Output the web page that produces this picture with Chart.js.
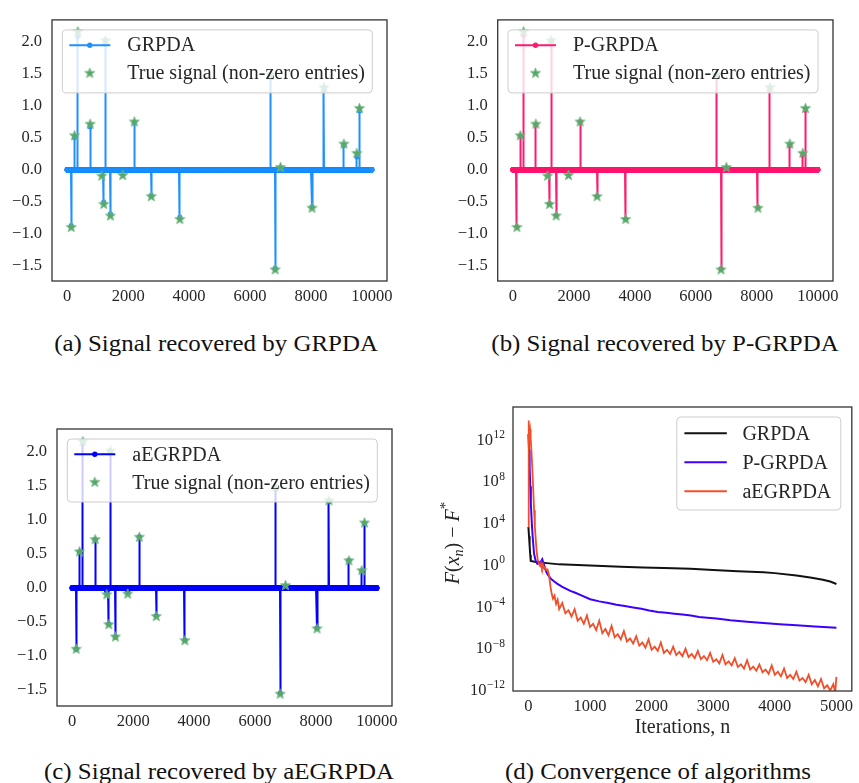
<!DOCTYPE html>
<html>
<head>
<meta charset="utf-8">
<title>Sparse signal recovery</title>
<script src="https://cdn.jsdelivr.net/npm/chart.js@4.4.1/dist/chart.umd.min.js"></script>
<style>
  html, body { margin: 0; padding: 0; background: #fff; }
  body { position: relative; width: 859px; height: 783px; overflow: hidden; }
  canvas { position: absolute; }
  .caption {
    position: absolute; font-family: 'Liberation Serif', 'Times New Roman', serif;
    font-size: 23.5px; line-height: 26px; color: #111; white-space: nowrap;
    transform: translateX(-50%) scaleX(1.06);
  }
</style>
</head>
<body>
<canvas id="panelA" width="430" height="320" style="left:0;top:0"></canvas>
<canvas id="panelB" width="429" height="320" style="left:430px;top:0"></canvas>
<canvas id="panelC" width="430" height="340" style="left:0;top:400px"></canvas>
<canvas id="panelD" width="429" height="345" style="left:430px;top:400px"></canvas>
<div class="caption" style="left:216px;top:330px">(a) Signal recovered by GRPDA</div>
<div class="caption" style="left:665px;top:330px">(b) Signal recovered by P-GRPDA</div>
<div class="caption" style="left:219px;top:758px">(c) Signal recovered by aEGRPDA</div>
<div class="caption" style="left:658px;top:758px">(d) Convergence of algorithms</div>
<script>
// ---- sparse test signal: support, true entries and recovered entries ----
const signalLength = 10000;
const supportIdx = [131, 240, 349, 752, 1134, 1200, 1254, 1418, 1821, 2203, 2759, 3697, 6685, 6827, 7001, 8037, 8430, 9084, 9509, 9596];
const trueValues = [-0.90, 0.53, 2.15, 0.71, -0.10, -0.54, 2.01, -0.72, -0.09, 0.745, -0.42, -0.775, 1.48, -1.56, 0.035, -0.60, 1.28, 0.40, 0.255, 0.955];
const grpdaValues = [-0.87, 0.50, 2.08, 0.67, -0.01, -0.505, 1.96, -0.69, -0.01, 0.73, -0.40, -0.74, 1.43, -1.535, 0.01, -0.58, 1.245, 0.38, 0.20, 0.92];
const pgrpdaValues = [-0.89, 0.52, 2.10, 0.70, -0.02, -0.53, 1.99, -0.71, -0.02, 0.745, -0.41, -0.77, 1.46, -1.545, 0.02, -0.59, 1.26, 0.38, 0.23, 0.93];
const aegrpdaValues = [-0.90, 0.53, 2.13, 0.71, -0.05, -0.53, 2.00, -0.72, -0.04, 0.75, -0.41, -0.77, 1.46, -1.55, 0.02, -0.59, 1.27, 0.40, 0.25, 0.95];

const indexTicks = [0, 2000, 4000, 6000, 8000, 10000];
const indexRange = [-500, 10499];
const amplitudeTicks = [-1.5, -1.0, -0.5, 0.0, 0.5, 1.0, 1.5, 2.0];
const amplitudeRange = [-1.735, 2.335];

// ---- objective gap F(x_n) - F*, stored as log10 values ----
const grpdaIter = [0, 10, 20, 30, 38, 100, 300, 500, 1000, 1500, 1860, 2200, 2632, 3000, 3400, 3817, 4000, 4352, 4600, 4781, 4900, 5000];
const grpdaLogGap = [3.6, 2.7, 1.8, 0.9, 0.32, 0.25, 0.12, 0.0, -0.12, -0.22, -0.3, -0.36, -0.43, -0.55, -0.65, -0.76, -0.84, -1.06, -1.28, -1.47, -1.65, -1.88];

const pgrpdaIter = [0, 10, 20, 30, 40, 55, 70, 92, 120, 146, 180, 210, 225, 240, 270, 305, 360, 420, 466, 550, 681, 762, 850, 1003, 1150, 1297, 1430, 1565, 1700, 1833, 1960, 2101, 2240, 2370, 2500, 2637, 2770, 2905, 3050, 3280, 3550, 3817, 4080, 4352, 4650, 5000];
const pgrpdaLogGap = [12.5, 11.0, 9.3, 7.5, 5.8, 4.0, 2.6, 1.0, 0.3, 0.05, 0.1, 0.35, 0.5, 0.2, -0.4, -0.9, -1.35, -1.65, -1.85, -2.15, -2.55, -2.72, -2.95, -3.35, -3.55, -3.71, -3.87, -4.0, -4.13, -4.25, -4.42, -4.57, -4.65, -4.73, -4.82, -4.9, -5.05, -5.12, -5.2, -5.37, -5.5, -5.63, -5.75, -5.85, -5.97, -6.07];

const aegrpdaIter = [0, 3, 8, 14, 20, 26, 32, 40, 50, 65, 80, 92, 105, 120, 135, 150, 170, 190, 205, 220, 235, 250, 270, 290, 310, 330, 345, 360, 375, 390, 400, 425, 450, 475,
  500, 550, 600, 650, 700, 750, 800, 850, 900, 950, 1000, 1050, 1100, 1150, 1200, 1250, 1300, 1350, 1400, 1450, 1500, 1550, 1600, 1650, 1700, 1750, 1800, 1850, 1900, 1950,
  2000, 2050, 2100, 2150, 2200, 2250, 2300, 2350, 2400, 2450, 2500, 2550, 2600, 2650, 2700, 2750, 2800, 2850, 2900, 2950, 3000, 3050, 3100, 3150, 3200, 3250, 3300, 3350, 3400, 3450,
  3500, 3550, 3600, 3650, 3700, 3750, 3800, 3850, 3900, 3950, 4000, 4050, 4100, 4150, 4200, 4250, 4300, 4350, 4400, 4450, 4500, 4550, 4600, 4650, 4700, 4750, 4800, 4850, 4900, 4950, 4980, 5000];
const aegrpdaLogGap = [3.6, 13.8, 12.9, 13.3, 12.8, 13.0, 12.6, 12.2, 10.8, 9.0, 7.0, 5.2, 3.6, 2.3, 1.2, 0.5, 0.1, -0.15, 0.1, -0.3, 0.0, -0.35, -0.25, -0.55, -0.5, -0.9, -1.5, -2.2, -2.7, -3.1, -3.3, -3.0, -3.8, -3.4,
  -4.3, -3.7, -4.7, -4.4, -5.0, -4.3, -5.4, -5.1, -5.7, -4.9, -6.0, -5.7, -6.3, -5.4, -6.6, -6.2, -6.8, -5.9, -7.0, -6.7, -7.2, -6.4, -7.4, -7.1, -7.6, -6.9, -7.8, -7.5, -8.0, -7.2,
  -8.2, -7.9, -8.3, -7.5, -8.5, -8.2, -8.6, -7.9, -8.7, -8.4, -8.8, -8.1, -8.9, -8.6, -9.0, -8.3, -9.1, -8.8, -9.2, -8.5, -9.35, -9.1, -9.5, -8.7, -9.6, -9.3, -9.7, -9.0, -9.85, -9.6,
  -10.0, -9.2, -10.1, -9.8, -10.2, -9.6, -10.35, -10.1, -10.5, -9.7, -10.6, -10.3, -10.75, -10.0, -10.9, -10.6, -11.0, -10.3, -11.15, -10.9, -11.3, -10.6, -11.5, -11.1, -11.7, -11.0, -11.9, -11.6, -12.1, -11.5, -12.3, -10.8];

const iterTicks = [0, 1000, 2000, 3000, 4000, 5000];
const iterRange = [-250, 5250];
const logTickExps = [-12, -8, -4, 0, 4, 8, 12];
const logRangeExps = [-12.15, 15.1];

// ---- styling ----
const FONT_FAMILY = "'Liberation Serif', 'Times New Roman', serif";
const TICK_COLOR = '#262626';
const TICK_SIZE = 16.5;
const STAR_GREEN = '#55a868';

function makeStar(rOuter) {
  const size = Math.ceil(rOuter * 2 + 2);
  const c = document.createElement('canvas');
  c.width = c.height = size;
  const g = c.getContext('2d');
  g.translate(size / 2, size / 2);
  g.beginPath();
  for (let k = 0; k < 10; k++) {
    const r = k % 2 ? rOuter * 0.42 : rOuter;
    const ang = -Math.PI / 2 + k * Math.PI / 5;
    g.lineTo(r * Math.cos(ang), r * Math.sin(ang));
  }
  g.closePath();
  g.fillStyle = STAR_GREEN;
  g.fill();
  g.lineWidth = 0.8;
  g.strokeStyle = '#72b884';
  g.stroke();
  return c;
}
const starImage = makeStar(5.3);

function denseSignal(vals) {
  const lookup = new Map(supportIdx.map((k, j) => [k, vals[j]]));
  const pts = [];
  for (let i = 0; i < signalLength; i++) pts.push({ x: i, y: lookup.has(i) ? lookup.get(i) : 0 });
  return pts;
}
function logSeries(iters, logs) {
  return iters.map((n, i) => ({ x: n, y: Math.pow(10, logs[i]) }));
}

function roundRect(ctx, x, y, w, h, r) {
  ctx.beginPath();
  ctx.moveTo(x + r, y);
  ctx.arcTo(x + w, y, x + w, y + h, r);
  ctx.arcTo(x + w, y + h, x, y + h, r);
  ctx.arcTo(x, y + h, x, y, r);
  ctx.arcTo(x, y, x + w, y, r);
  ctx.closePath();
}

const axesFrame = {
  id: 'axesFrame',
  afterDatasetsDraw(chart) {
    const { ctx, chartArea: a } = chart;
    ctx.save();
    ctx.strokeStyle = '#333333';
    ctx.lineWidth = 1.3;
    ctx.strokeRect(a.left, a.top, a.right - a.left, a.bottom - a.top);
    ctx.restore();
  }
};

function boxLegend(spec) {
  return {
    id: 'boxLegend',
    afterDatasetsDraw(chart) {
      const { ctx, chartArea: a } = chart;
      const bx = spec.fromRight ? a.right - spec.dx - spec.w : a.left + spec.dx;
      const by = a.top + spec.dy;
      ctx.save();
      roundRect(ctx, bx, by, spec.w, spec.h, 4);
      ctx.fillStyle = 'rgba(255,255,255,0.8)';
      ctx.fill();
      ctx.strokeStyle = '#cccccc';
      ctx.lineWidth = 1;
      ctx.stroke();
      ctx.font = `${spec.fontSize}px ${FONT_FAMILY}`;
      ctx.textBaseline = 'middle';
      ctx.textAlign = 'left';
      spec.entries.forEach((e, i) => {
        const y = by + spec.rows[i];
        const x0 = bx + spec.handle[0], x1 = bx + spec.handle[1], xm = (x0 + x1) / 2;
        if (e.line) {
          ctx.beginPath();
          ctx.moveTo(x0, y);
          ctx.lineTo(x1, y);
          ctx.strokeStyle = e.color;
          ctx.lineWidth = e.width || 2;
          ctx.stroke();
        }
        if (e.dot) {
          ctx.beginPath();
          ctx.arc(xm, y, e.dot, 0, Math.PI * 2);
          ctx.fillStyle = e.color;
          ctx.fill();
        }
        if (e.star) ctx.drawImage(e.star, xm - e.star.width / 2, y - e.star.height / 2);
        ctx.fillStyle = TICK_COLOR;
        ctx.fillText(e.text, bx + spec.textX, y + 1);
      });
      ctx.restore();
    }
  };
}

const charts = [];

function signalChart(canvasId, color, algoName, recovered, area) {
  const cv = document.getElementById(canvasId);
  const W = cv.width, H = cv.height;
  charts.push(new Chart(cv, {
    type: 'scatter',
    data: {
      datasets: [
        {
          label: 'True signal (non-zero entries)',
          data: supportIdx.map((k, j) => ({ x: k, y: trueValues[j] })),
          pointStyle: starImage, pointRadius: 5, showLine: false
        },
        {
          label: algoName,
          data: denseSignal(recovered),
          showLine: true, borderColor: color, borderWidth: 2,
          pointRadius: 2.6, pointBorderWidth: 0, pointBackgroundColor: color, backgroundColor: color
        }
      ]
    },
    options: {
      responsive: false, animation: false, events: [],
      layout: { padding: { left: 0, top: area.top, right: W - area.right, bottom: 0 } },
      plugins: { legend: { display: false }, tooltip: { enabled: false } },
      scales: {
        x: {
          type: 'linear', min: indexRange[0], max: indexRange[1],
          afterBuildTicks: s => { s.ticks = indexTicks.map(v => ({ value: v })); },
          afterFit: s => { s.height = H - area.bottom; },
          grid: { display: false, drawTicks: false }, border: { display: false },
          ticks: { padding: 6, color: TICK_COLOR, font: { family: FONT_FAMILY, size: TICK_SIZE }, maxRotation: 0, autoSkip: false, callback: v => String(v) }
        },
        y: {
          type: 'linear', min: amplitudeRange[0], max: amplitudeRange[1],
          afterBuildTicks: s => { s.ticks = amplitudeTicks.map(v => ({ value: v })); },
          afterFit: s => { s.width = area.left; },
          grid: { display: false, drawTicks: false }, border: { display: false },
          ticks: { padding: 10, color: TICK_COLOR, font: { family: FONT_FAMILY, size: TICK_SIZE }, autoSkip: false,
                   callback: v => (v < 0 ? '\u2212' : '') + Math.abs(v).toFixed(1) }
        }
      }
    },
    plugins: [axesFrame, boxLegend({
      dx: 10.3, dy: 10, w: 310, h: 63, rows: [15.3, 43.3], handle: [7, 48], textX: 65, fontSize: 20,
      entries: [
        { text: algoName, line: true, dot: 2.7, color: color },
        { text: 'True signal (non-zero entries)', star: starImage }
      ]
    })]
  }));
}

signalChart('panelA', '#1e90ff', 'GRPDA', grpdaValues, { left: 52, top: 4, right: 387, bottom: 281 });
signalChart('panelB', '#fe1a6f', 'P-GRPDA', pgrpdaValues, { left: 67.7, top: 4, right: 403, bottom: 281 });
signalChart('panelC', '#0000ff', 'aEGRPDA', aegrpdaValues, { left: 57, top: 29, right: 392, bottom: 306 });

// ---- convergence panel ----
const logTickLabels = {
  id: 'logTickLabels',
  afterDraw(chart) {
    const { ctx, chartArea: a, scales: { y } } = chart;
    ctx.save();
    ctx.fillStyle = TICK_COLOR;
    ctx.textBaseline = 'alphabetic';
    ctx.textAlign = 'left';
    logTickExps.forEach(e => {
      const py = y.getPixelForValue(Math.pow(10, e));
      const base = '10';
      const sup = (e < 0 ? '\u2212' : '') + Math.abs(e);
      ctx.font = `${TICK_SIZE}px ${FONT_FAMILY}`;
      const wb = ctx.measureText(base).width;
      ctx.font = `11.5px ${FONT_FAMILY}`;
      const ws = ctx.measureText(sup).width;
      const x0 = a.left - 8 - wb - ws - 0.5;
      ctx.font = `${TICK_SIZE}px ${FONT_FAMILY}`;
      ctx.fillText(base, x0, py + 5.5);
      ctx.font = `11.5px ${FONT_FAMILY}`;
      ctx.fillText(sup, x0 + wb + 0.5, py - 1);
    });
    ctx.restore();
  }
};

const gapAxisTitle = {
  id: 'gapAxisTitle',
  afterDraw(chart) {
    const { ctx, chartArea: a } = chart;
    const parts = [
      { t: 'F', f: 'italic 20px', dy: 0 },
      { t: '(', f: '20px', dy: 0 },
      { t: 'x', f: 'italic 20px', dy: 0 },
      { t: 'n', f: 'italic 14px', dy: 4 },
      { t: ')', f: '20px', dy: 0 },
      { t: ' \u2212 ', f: '20px', dy: 0 },
      { t: 'F', f: 'italic 20px', dy: 0 },
      { t: '*', f: '15px', dy: -9 }
    ];
    ctx.save();
    let total = 0;
    parts.forEach(p => { ctx.font = `${p.f} ${FONT_FAMILY}`; p.w = ctx.measureText(p.t).width; total += p.w; });
    ctx.translate(22, (a.top + a.bottom) / 2 - 6);
    ctx.rotate(-Math.PI / 2);
    ctx.fillStyle = TICK_COLOR;
    ctx.textBaseline = 'alphabetic';
    let x = -total / 2;
    parts.forEach(p => {
      ctx.font = `${p.f} ${FONT_FAMILY}`;
      ctx.fillText(p.t, x, 7 + p.dy);
      x += p.w;
    });
    ctx.restore();
  }
};

(function convergenceChart() {
  const cv = document.getElementById('panelD');
  const W = cv.width, H = cv.height;
  const area = { left: 83, top: 7, right: 427, bottom: 291 };
  const colors = { grpda: '#111111', pgrpda: '#3c00ff', aegrpda: '#f24e2a' };
  charts.push(new Chart(cv, {
    type: 'scatter',
    data: {
      datasets: [
        { label: 'GRPDA', data: logSeries(grpdaIter, grpdaLogGap), showLine: true, borderColor: colors.grpda, borderWidth: 2, pointRadius: 0, order: 3 },
        { label: 'P-GRPDA', data: logSeries(pgrpdaIter, pgrpdaLogGap), showLine: true, borderColor: colors.pgrpda, borderWidth: 2, pointRadius: 0, order: 2 },
        { label: 'aEGRPDA', data: logSeries(aegrpdaIter, aegrpdaLogGap), showLine: true, borderColor: colors.aegrpda, borderWidth: 1.8, pointRadius: 0, order: 1 }
      ]
    },
    options: {
      responsive: false, animation: false, events: [],
      layout: { padding: { left: 0, top: area.top, right: W - area.right, bottom: 0 } },
      plugins: { legend: { display: false }, tooltip: { enabled: false } },
      scales: {
        x: {
          type: 'linear', min: iterRange[0], max: iterRange[1],
          afterBuildTicks: s => { s.ticks = iterTicks.map(v => ({ value: v })); },
          afterFit: s => { s.height = H - area.bottom; },
          grid: { display: false, drawTicks: false }, border: { display: false },
          ticks: { padding: 6, color: TICK_COLOR, font: { family: FONT_FAMILY, size: TICK_SIZE }, maxRotation: 0, autoSkip: false, callback: v => String(v) },
          title: { display: true, text: 'Iterations, n', color: TICK_COLOR, font: { family: FONT_FAMILY, size: 20 }, padding: { top: 0, bottom: 5 } }
        },
        y: {
          type: 'logarithmic', min: Math.pow(10, logRangeExps[0]), max: Math.pow(10, logRangeExps[1]),
          afterBuildTicks: s => { s.ticks = logTickExps.map(e => ({ value: Math.pow(10, e) })); },
          afterFit: s => { s.width = area.left; },
          grid: { display: false, drawTicks: false }, border: { display: false },
          ticks: { display: false }
        }
      }
    },
    plugins: [axesFrame, boxLegend({
      fromRight: true, dx: 11, dy: 10, w: 164, h: 93, rows: [16.3, 45.3, 74.3], handle: [7.6, 50], textX: 65.6, fontSize: 20,
      entries: [
        { text: 'GRPDA', line: true, color: colors.grpda },
        { text: 'P-GRPDA', line: true, color: colors.pgrpda },
        { text: 'aEGRPDA', line: true, color: colors.aegrpda }
      ]
    }), logTickLabels, gapAxisTitle]
  }));
})();

// redraw once the serif faces are ready so canvas text uses them
if (document.fonts && document.fonts.load) {
  Promise.all([`${TICK_SIZE}px "Liberation Serif"`, 'italic 20px "Liberation Serif"'].map(f => document.fonts.load(f)))
    .then(() => charts.forEach(c => c.update('none')))
    .catch(() => {});
}
</script>
</body>
</html>
